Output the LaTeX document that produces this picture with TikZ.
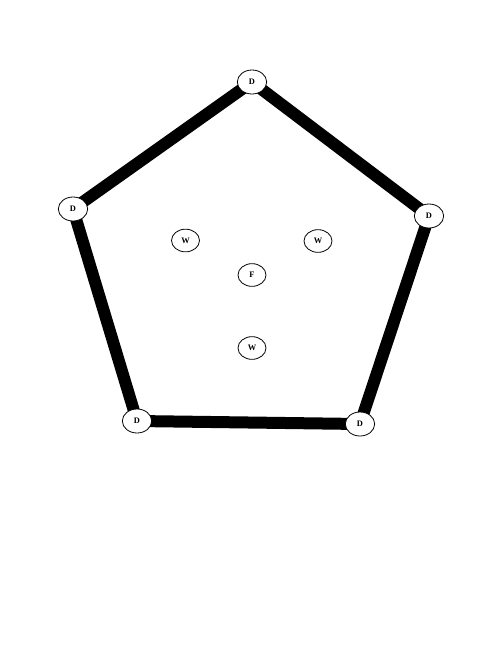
\documentclass[tikz,border=0pt]{standalone}
\usepackage{fontspec}
\setmainfont{Liberation Serif}
\usetikzlibrary{shapes.geometric,backgrounds}
\begin{document}
\begin{tikzpicture}[x=0.75pt,y=-0.75pt,
  vtx/.style={ellipse,draw,fill=white,line width=0.6pt,inner sep=0pt,
    minimum width=21pt,minimum height=17pt,font=\fontsize{6.3}{7}\selectfont\bfseries},
  dvtx/.style={vtx,minimum width=22pt,minimum height=18pt},
  wall/.style={line width=9pt}]
\useasboundingbox (0,0) rectangle (500,647);
\node[dvtx] (d1) at (252,82) {D};
\node[dvtx] (d2) at (73,209) {D};
\node[dvtx] (d3) at (429,216) {D};
\node[dvtx] (d4) at (137,421) {D};
\node[dvtx] (d5) at (360,424) {D};
\node[vtx] (w1) at (185.5,240.5) {W};
\node[vtx] (w2) at (318,241) {W};
\node[vtx] (f) at (252,275) {F};
\node[vtx] (w3) at (252,348) {W};
\begin{pgfonlayer}{background}
\draw[wall] (d1.center) -- (d2.center);
\draw[wall] (d1.center) -- (d3.center);
\draw[wall] (d2.center) -- (d4.center);
\draw[wall] (d3.center) -- (d5.center);
\draw[wall] (d4.center) -- (d5.center);
\end{pgfonlayer}
\end{tikzpicture}
\end{document}
